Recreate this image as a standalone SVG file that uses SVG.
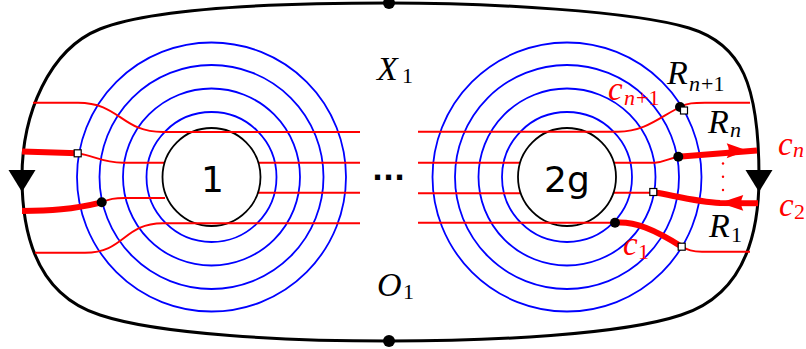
<svg xmlns="http://www.w3.org/2000/svg" width="806" height="349" viewBox="0 0 806 349">
<style>
.bl{fill:none;stroke:#0000ff;stroke-width:1.8}
.hole{fill:#ffffff;stroke:#000;stroke-width:1.8}
.rd{fill:none;stroke:#ff0000;stroke-width:1.9}
.rk{fill:none;stroke:#ff0000;stroke-width:6}
.ra{fill:#ff0000;stroke:none}
.dot{fill:#000}
.sq{fill:#fff;stroke:#000;stroke-width:1.2}
.mi{font-family:"Liberation Serif",serif;font-style:italic;font-size:34px}
.mc{font-family:"Liberation Serif",serif;font-style:italic;font-size:33px}
.su{font-family:"Liberation Serif",serif;font-size:22px}
.si{font-family:"Liberation Serif",serif;font-style:italic;font-size:22px}
.hn{font-family:"DejaVu Sans",sans-serif;font-size:36px;text-anchor:middle}
.red{fill:#ff0000}
</style>
<rect width="806" height="349" fill="#fff"/>
<g id="boundary">
<path d="M389,3 C290,3 155.7,6.7 100,29 C49,49.4 22,114 22,177 C22,240 40,296 100,315 C160,335 290,341 389,341 C491,341 621,335 681,315 C741,296 759,240 759,177 C759,85 742,44 689,28 C633,11 490,3 389,3 Z" fill="none" stroke="#000" stroke-width="3"/>
<polygon points="8.5,170 35.5,170 22,192" fill="#000"/>
<polygon points="745.5,170 772.5,170 759,192" fill="#000"/>
<circle cx="389" cy="3" r="6" fill="#000"/>
<circle cx="389" cy="341" r="6" fill="#000"/>
</g>
<g id="hole1">
<circle class="bl" cx="211.5" cy="177" r="65"/>
<circle class="bl" cx="211.5" cy="177" r="88.5"/>
<circle class="bl" cx="211.5" cy="177" r="112"/>
<circle class="bl" cx="211.5" cy="177" r="134.5"/>
</g>
<g id="hole2g">
<circle class="bl" cx="567" cy="177" r="65"/>
<circle class="bl" cx="567" cy="177" r="88.5"/>
<circle class="bl" cx="567" cy="177" r="112"/>
<circle class="bl" cx="567" cy="177" r="134.5"/>
</g>
<g id="connectors">
<path class="rd" d="M77.7,153.3 C95,156 102,162.7 123,162.7 H165"/>
<path class="rd" d="M258,162.7 H360"/>
<path class="rd" d="M101.7,202.3 C110,199 114,198 125,198 H165"/>
<path class="rd" d="M258,192.7 H360"/>
<path class="rk" d="M22,151.5 L77.7,153.3"/>
<path class="rk" d="M22,211 C50,211 72,209.5 101.7,202.3"/>
<path class="rd" d="M418,162.7 H520"/>
<path class="rd" d="M614,162.7 H655 C665,162 670,158 678.3,156.7"/>
<path class="rd" d="M418,193.3 H520"/>
<path class="rd" d="M614,192.7 H653.3"/>
<path class="rk" d="M678.3,156.7 L757,150.5"/>
<path class="ra" d="M748,150.7 Q737,147 726.7,143.3 Q731,151 726.7,158.3 Q737,154 748,150.7 Z"/>
<path class="rk" d="M653.3,192 C680,197 700,202 720,203 L758,203.3"/>
<path class="ra" d="M720,202.9 Q731,199 743.3,195 Q739,203 743.3,210.7 Q731,206.5 720,202.9 Z"/>
<path class="rk" d="M615,222.7 C635,221 655,230 681.7,246.7"/>
<path class="rd" d="M681.7,246.7 C688,250 692,251.7 702,251.7 H750"/>
<circle class="ra" cx="723" cy="163.5" r="1.2"/>
<circle class="ra" cx="723" cy="176.8" r="1.2"/>
<circle class="ra" cx="723" cy="190" r="1.2"/>
</g>
<g id="disc1">
<circle class="hole" cx="211.5" cy="177" r="49"/>
<text class="hn" x="212.5" y="191.7">1</text>
</g>
<g id="disc2g">
<circle class="hole" cx="567" cy="177" r="49"/>
<text class="hn" x="567" y="191.7">2g</text>
</g>
<g id="overlines">
<path class="rd" d="M33,102.7 H78 C120,102.7 121,132 163,132 H360"/>
<path class="rd" d="M35,252.7 H85 C125,252.7 123,223.3 163,223.3 H360"/>
<path class="rd" d="M418,131.7 H618 C645,131.7 660,117 680,107 C688,103 693,102.7 705,102.7 H750"/>
<path class="rd" d="M418,222.7 H615"/>
</g>
<g id="markers">
<circle class="dot" cx="101.7" cy="202.3" r="5"/>
<circle class="dot" cx="680" cy="107" r="5"/>
<circle class="dot" cx="678.3" cy="156.7" r="5"/>
<circle class="dot" cx="615" cy="222.7" r="5"/>
<rect class="sq" x="74.2" y="149.8" width="7" height="7"/>
<rect class="sq" x="680.5" y="107" width="7" height="7"/>
<rect class="sq" x="649.8" y="188.5" width="7" height="7"/>
<rect class="sq" x="678.2" y="243.2" width="7" height="7"/>
</g>
<g id="labels">
<text x="372" y="180" style="font-family:'DejaVu Sans',sans-serif;font-weight:bold;font-size:29px">...</text>
<text class="mi" x="377" y="80">X</text><text class="su" x="402" y="83">1</text>
<text class="mi" x="377" y="296">O</text><text class="su" x="403" y="298.5">1</text>
<text class="mi" x="667" y="84">R</text><text class="si" x="689" y="91">n</text><text class="su" x="701" y="91">+1</text>
<text class="mi" x="708" y="133.3">R</text><text class="si" x="730" y="137">n</text>
<text class="mi" x="709" y="237">R</text><text class="su" x="731" y="242">1</text>
<text class="mc red" x="608" y="100">c</text><text class="si red" x="624" y="105">n</text><text class="su red" x="636" y="105">+1</text>
<text class="mc red" x="778" y="155">c</text><text class="si red" x="793" y="157">n</text>
<text class="mc red" x="779" y="216">c</text><text class="su red" x="794" y="219">2</text>
<text class="mc red" x="623" y="255">c</text><text class="su red" x="638" y="258.5">1</text>
</g>
</svg>
